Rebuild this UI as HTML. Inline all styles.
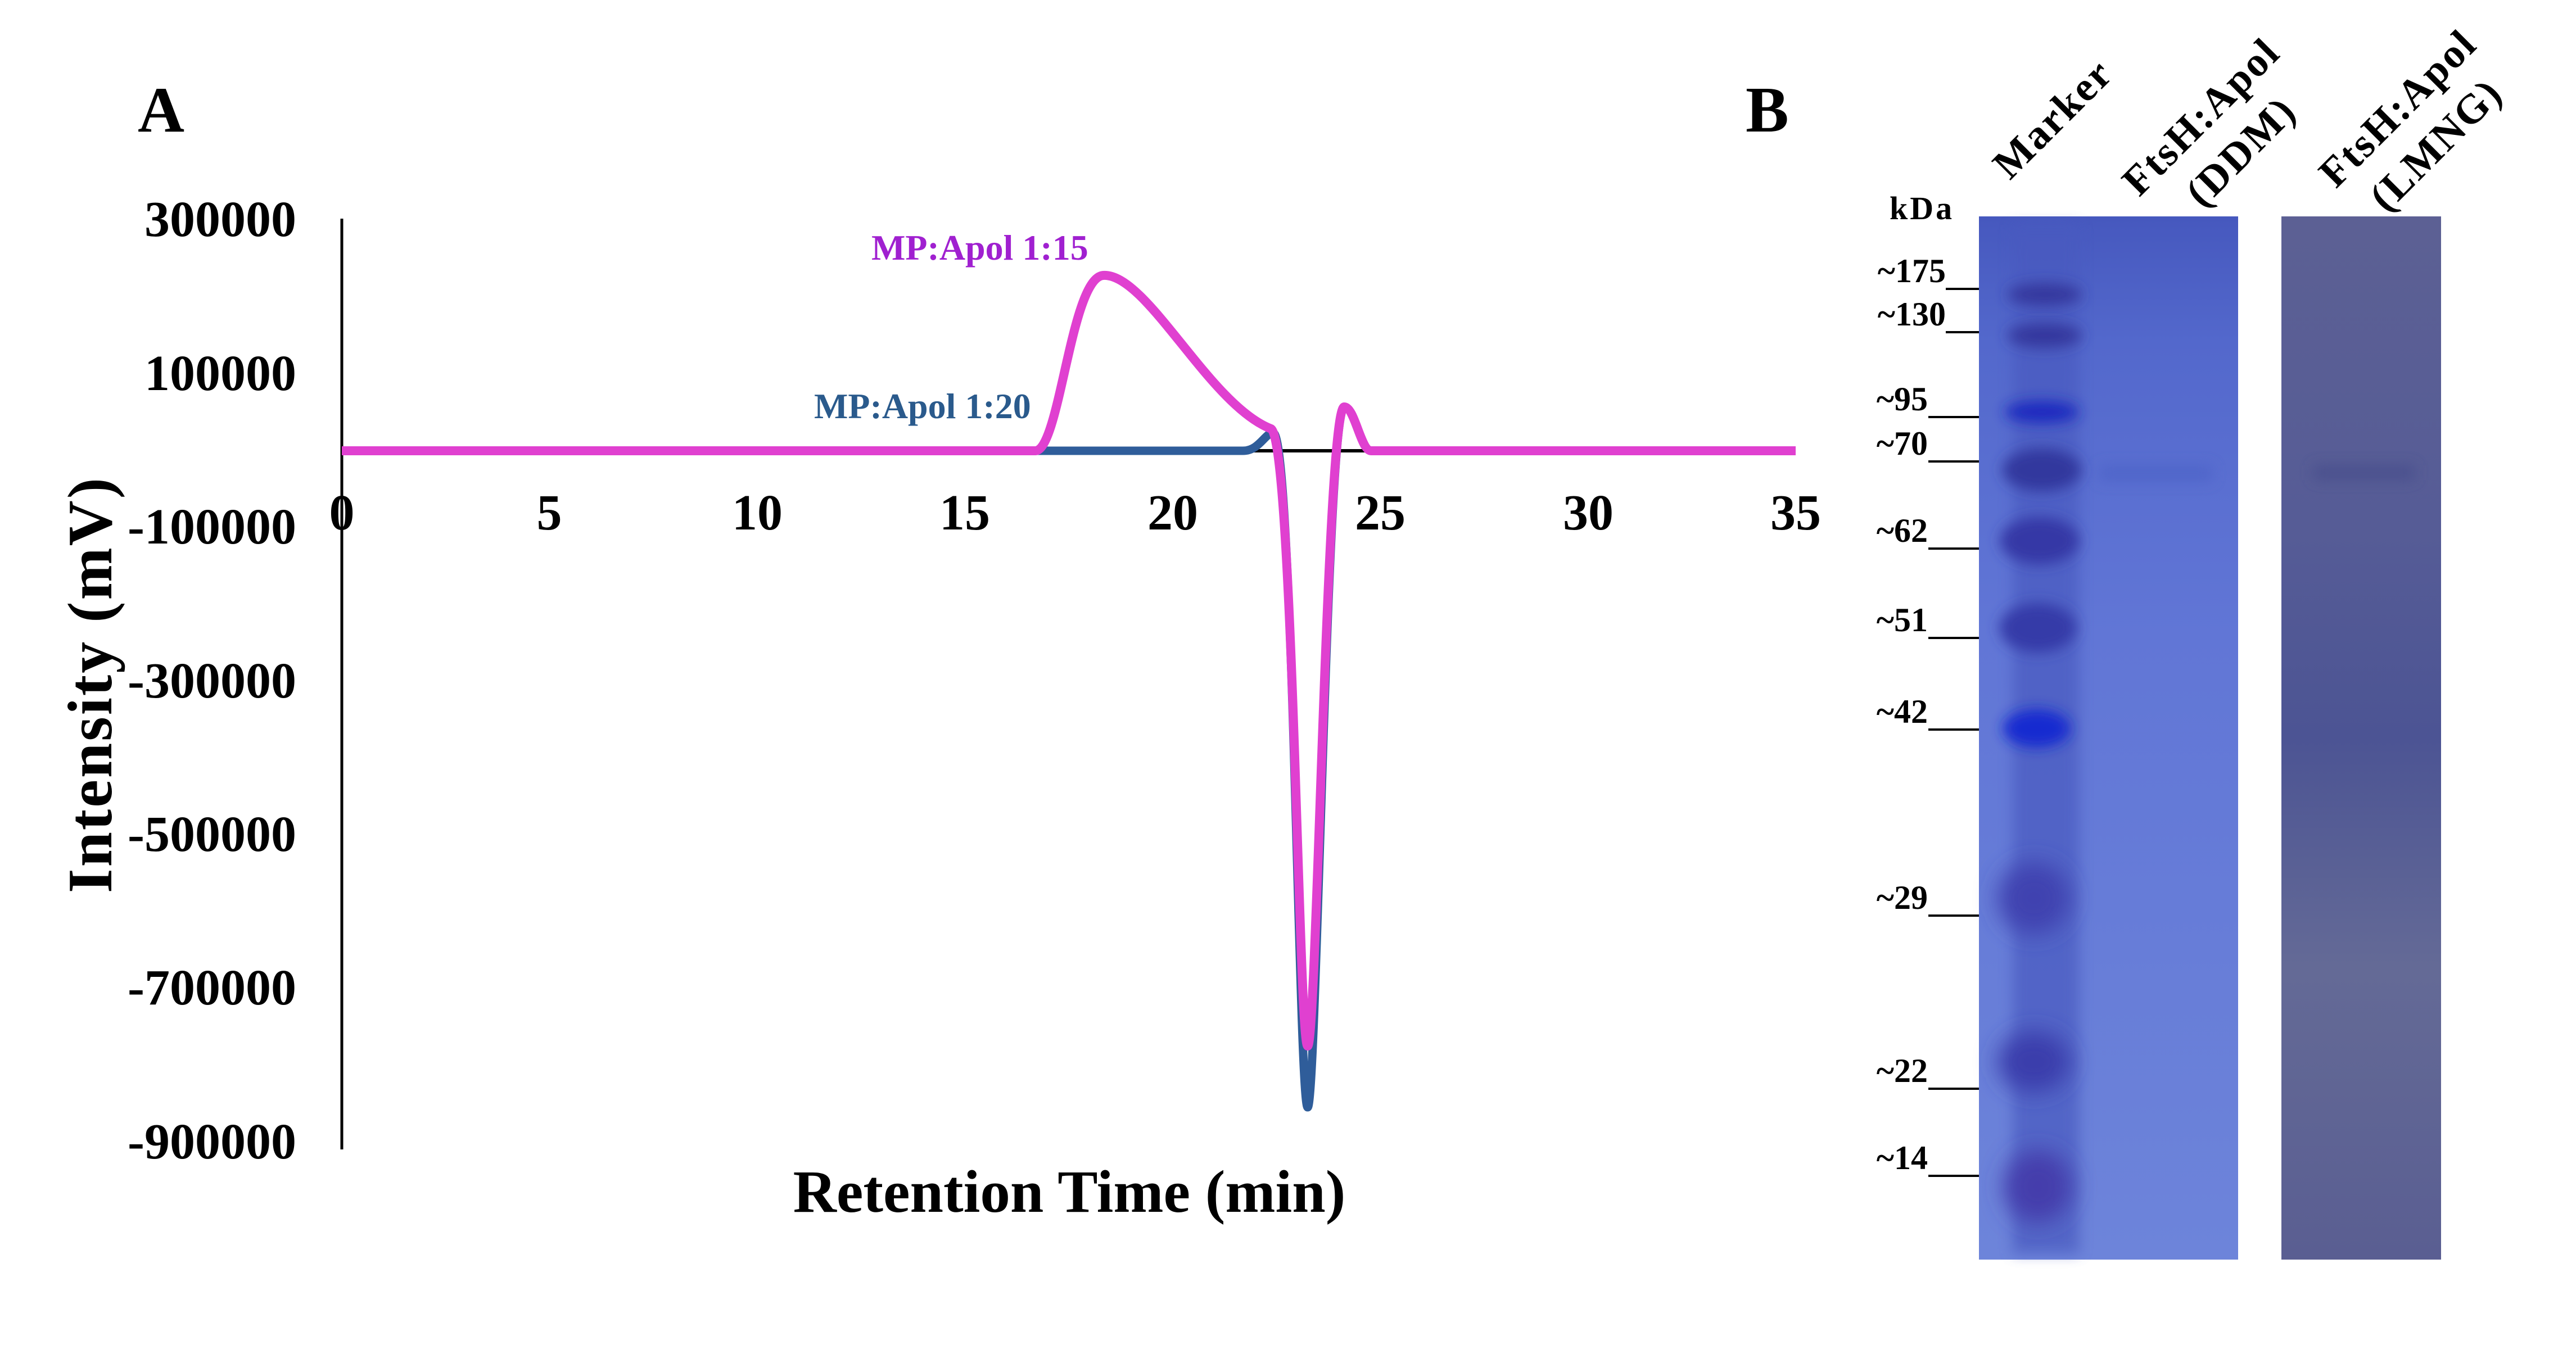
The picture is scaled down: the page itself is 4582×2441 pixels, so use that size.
<!DOCTYPE html>
<html><head><meta charset="utf-8"><style>
html,body{margin:0;padding:0;background:#fff;}
svg{display:block;}
text{font-family:"Liberation Serif",serif;font-weight:bold;}
</style></head><body>
<svg width="4582" height="2441" viewBox="0 0 4582 2441" xmlns="http://www.w3.org/2000/svg">
<defs>
<linearGradient id="g1" x1="0" y1="0" x2="0" y2="1">
<stop offset="0" stop-color="#4658be"/><stop offset="0.12" stop-color="#5368cc"/><stop offset="0.4" stop-color="#6176d6"/><stop offset="1" stop-color="#6d84da"/>
</linearGradient>
<linearGradient id="g2" x1="0" y1="0" x2="0" y2="1">
<stop offset="0" stop-color="#5c6094"/><stop offset="0.3" stop-color="#565c96"/><stop offset="0.5" stop-color="#4c5494"/><stop offset="0.72" stop-color="#646a96"/><stop offset="1" stop-color="#5a5e92"/>
</linearGradient>
<filter id="bl" x="-50%" y="-100%" width="200%" height="300%"><feGaussianBlur stdDeviation="12"/></filter>
<filter id="bl2" x="-50%" y="-100%" width="200%" height="300%"><feGaussianBlur stdDeviation="20"/></filter>
</defs>
<rect width="4582" height="2441" fill="#fff"/>

<!-- Panel A -->
<text x="245" y="234" font-size="115">A</text>
<line x1="608" y1="389" x2="608" y2="2045" stroke="#000" stroke-width="5"/>
<line x1="608" y1="802" x2="3194" y2="802" stroke="#000" stroke-width="6"/>
<g font-size="90" text-anchor="end">
<text x="527" y="420">300000</text>
<text x="527" y="694">100000</text>
<text x="527" y="967">-100000</text>
<text x="527" y="1241">-300000</text>
<text x="527" y="1514">-500000</text>
<text x="527" y="1787">-700000</text>
<text x="527" y="2061">-900000</text>
</g>
<g font-size="90" text-anchor="middle">
<text x="608" y="942">0</text>
<text x="977" y="942">5</text>
<text x="1347" y="942">10</text>
<text x="1716" y="942">15</text>
<text x="2086" y="942">20</text>
<text x="2455" y="942">25</text>
<text x="2825" y="942">30</text>
<text x="3194" y="942">35</text>
</g>
<text transform="translate(198,1218) rotate(-90)" font-size="112" text-anchor="middle" letter-spacing="3">Intensity (mV)</text>
<text x="1902" y="2156" font-size="107" text-anchor="middle">Retention Time (min)</text>

<path d="M608,802 L2211,802 C2240,802 2250,770 2265,770 C2300,780 2310,1970 2326,1970 C2342,1970 2360,724 2391,724 C2410,724 2420,802 2439,802 L3194,802" fill="none" stroke="#2f5d9a" stroke-width="15" stroke-linejoin="round"/>
<path d="M608,802 L1842,802 C1885,800 1905,495 1962,490 C2040,485 2150,720 2261,763 C2300,790 2310,1861 2326,1861 C2342,1861 2360,724 2391,724 C2410,724 2420,802 2439,802 L3194,802" fill="none" stroke="#e040d0" stroke-width="16" stroke-linejoin="round"/>
<text x="1550" y="462" font-size="64" fill="#a020d0">MP:Apol 1:15</text>
<text x="1448" y="744" font-size="64" fill="#2a5a8c">MP:Apol 1:20</text>

<!-- Panel B -->
<text x="3105" y="234" font-size="115">B</text>
<text x="3361" y="390" font-size="58" letter-spacing="4">kDa</text>
<g font-size="60" text-anchor="end">
<text x="3461" y="502">~175</text>
<text x="3461" y="579">~130</text>
<text x="3429" y="730">~95</text>
<text x="3429" y="809">~70</text>
<text x="3429" y="964">~62</text>
<text x="3429" y="1123">~51</text>
<text x="3429" y="1286">~42</text>
<text x="3429" y="1617">~29</text>
<text x="3429" y="1925">~22</text>
<text x="3429" y="2080">~14</text>
</g>
<g stroke="#000" stroke-width="4">
<line x1="3461" y1="514" x2="3520" y2="514"/>
<line x1="3461" y1="591" x2="3520" y2="591"/>
<line x1="3430" y1="742" x2="3520" y2="742"/>
<line x1="3430" y1="821" x2="3520" y2="821"/>
<line x1="3430" y1="976" x2="3520" y2="976"/>
<line x1="3430" y1="1135" x2="3520" y2="1135"/>
<line x1="3430" y1="1298" x2="3520" y2="1298"/>
<line x1="3430" y1="1629" x2="3520" y2="1629"/>
<line x1="3430" y1="1937" x2="3520" y2="1937"/>
<line x1="3430" y1="2092" x2="3520" y2="2092"/>
</g>

<rect x="3520" y="385" width="461" height="1856" fill="url(#g1)"/>
<rect x="3580" y="400" width="118" height="1830" fill="#4a5ac0" opacity="0.7" filter="url(#bl)"/>
<ellipse cx="3637" cy="524" rx="66" ry="20" fill="#34399e" filter="url(#bl)"/>
<ellipse cx="3637" cy="597" rx="66" ry="22" fill="#34399e" filter="url(#bl)"/>
<ellipse cx="3632" cy="733" rx="66" ry="20" fill="#1c2cc0" filter="url(#bl)"/>
<ellipse cx="3632" cy="836" rx="70" ry="38" fill="#33389e" filter="url(#bl)"/>
<ellipse cx="3628" cy="962" rx="70" ry="42" fill="#3439a6" filter="url(#bl)"/>
<ellipse cx="3625" cy="1117" rx="68" ry="44" fill="#363ba8" filter="url(#bl)"/>
<ellipse cx="3623" cy="1296" rx="60" ry="34" fill="#142cd0" filter="url(#bl)"/>
<ellipse cx="3618" cy="1598" rx="64" ry="64" fill="#3f43b0" filter="url(#bl2)"/>
<ellipse cx="3618" cy="1889" rx="64" ry="54" fill="#3a3eac" filter="url(#bl2)"/>
<ellipse cx="3625" cy="2111" rx="60" ry="64" fill="#443cac" filter="url(#bl2)"/>
<rect x="3735" y="828" width="200" height="28" fill="#4d63c8" opacity="0.8" filter="url(#bl)"/>

<rect x="4058" y="385" width="284" height="1856" fill="url(#g2)"/>
<rect x="4115" y="828" width="180" height="26" fill="#474d8c" opacity="0.8" filter="url(#bl)"/>

<g font-size="74" letter-spacing="3">
<text transform="translate(3575,322) rotate(-45)">Marker</text>
<text transform="translate(3805,352) rotate(-45)">FtsH:Apol</text>
<text transform="translate(3918,372) rotate(-45)">(DDM)</text>
<text transform="translate(4155,337) rotate(-45)">FtsH:Apol</text>
<text transform="translate(4245,380) rotate(-45)">(LMNG)</text>
</g>
</svg>
</body></html>
